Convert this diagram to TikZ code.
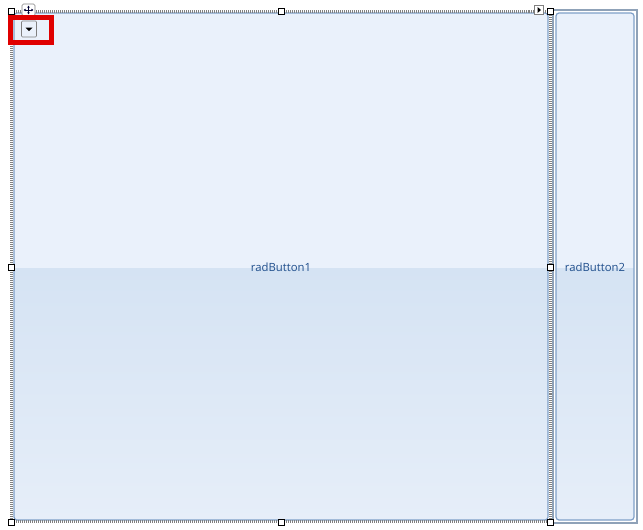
\documentclass[tikz,border=0pt]{standalone}
\usepackage{fontspec}
\setmainfont{Open Sans}
\usetikzlibrary{arrows.meta,calc}
\definecolor{btnborder}{HTML}{7FA0C8}
\definecolor{btntop}{HTML}{EAF1FB}
\definecolor{btnmid}{HTML}{D5E3F3}
\definecolor{btnbot}{HTML}{E6EEF9}
\definecolor{btntext}{HTML}{1F4E8C}
\definecolor{selgray}{HTML}{808080}
\definecolor{framegray}{HTML}{8FA2B8}
\definecolor{hilite}{HTML}{E00000}
\tikzset{
  handle/.style={draw=black,fill=white,line width=0.9pt,minimum size=6pt,inner sep=0pt},
  btnlabel/.style={text=btntext,font=\fontsize{11.3}{13}\selectfont,inner sep=0pt},
  seldots/.style={draw=selgray,line width=2.2pt,dash pattern=on 1pt off 1pt},
  movearrow/.style={black!80!blue,line width=0.7pt,-{Latex[length=2.2pt,width=2.8pt]}},
}
\begin{document}
\begin{tikzpicture}[x=1pt,y=-1pt]
\useasboundingbox (0,0) rectangle (643,530);
\fill[white] (0,0) rectangle (643,530);
% --- radButton1 ---
\begin{scope}
\clip[rounded corners=3pt] (14,13) rectangle (548,520);
\fill[btntop] (14,13) rectangle (548,268);
\shade[top color=btnmid,bottom color=btnbot] (14,268) rectangle (548,520);
\end{scope}
\draw[btnborder,line width=1.2pt,rounded corners=3pt] (14,13) rectangle (548,520);
\node[btnlabel] (b1) at (281,267) {radButton1};
% --- radButton2 ---
\draw[framegray,line width=1.2pt] (553,10) rectangle (637,523);
\begin{scope}
\clip[rounded corners=3pt] (556,13) rectangle (634,520);
\fill[btntop] (556,13) rectangle (634,268);
\shade[top color=btnmid,bottom color=btnbot] (556,268) rectangle (634,520);
\end{scope}
\draw[btnborder,line width=1.2pt,rounded corners=3pt] (556,13) rectangle (634,520);
\node[btnlabel] (b2) at (595,267) {radButton2};
% --- selection frame ---
\draw[seldots] (11.5,11.5) rectangle (550.5,521.5);
% move glyph
\node[draw=selgray,fill=white,line width=0.6pt,minimum width=13pt,minimum height=12pt,inner sep=0pt,rounded corners=1.5pt] (move) at (28.5,10) {};
\draw[movearrow] (move.center) -- ++(0,-4.5);
\draw[movearrow] (move.center) -- ++(0,4.5);
\draw[movearrow] (move.center) -- ++(-5,0);
\draw[movearrow] (move.center) -- ++(5,0);
% smart tag glyph
\node[draw=selgray,fill=white,line width=0.6pt,minimum size=9pt,inner sep=0pt] (tag) at (539,10) {};
\fill[black] ($(tag.center)+(-1.5,-3)$) -- ++(3.5,3) -- ++(-3.5,3) -- cycle;
% handles
\node[handle] (h1) at (11,11) {};
\node[handle] (h2) at (281,11) {};
\node[handle] (h3) at (550,11) {};
\node[handle] (h4) at (11,267) {};
\node[handle] (h5) at (550,267) {};
\node[handle] (h6) at (11,522) {};
\node[handle] (h7) at (281,522) {};
\node[handle] (h8) at (550,522) {};
% dropdown button with red highlight
\node[draw=selgray,fill=btntop,line width=0.6pt,minimum width=15pt,minimum height=16pt,inner sep=0pt,rounded corners=1pt] (dd) at (29,29) {};
\fill[black] ($(dd.center)+(-3.5,-1.5)$) -- ++(7,0) -- ++(-3.5,3.5) -- cycle;
\draw[hilite,line width=5pt] (10.5,17.5) rectangle (51,42);
\end{tikzpicture}
\end{document}
